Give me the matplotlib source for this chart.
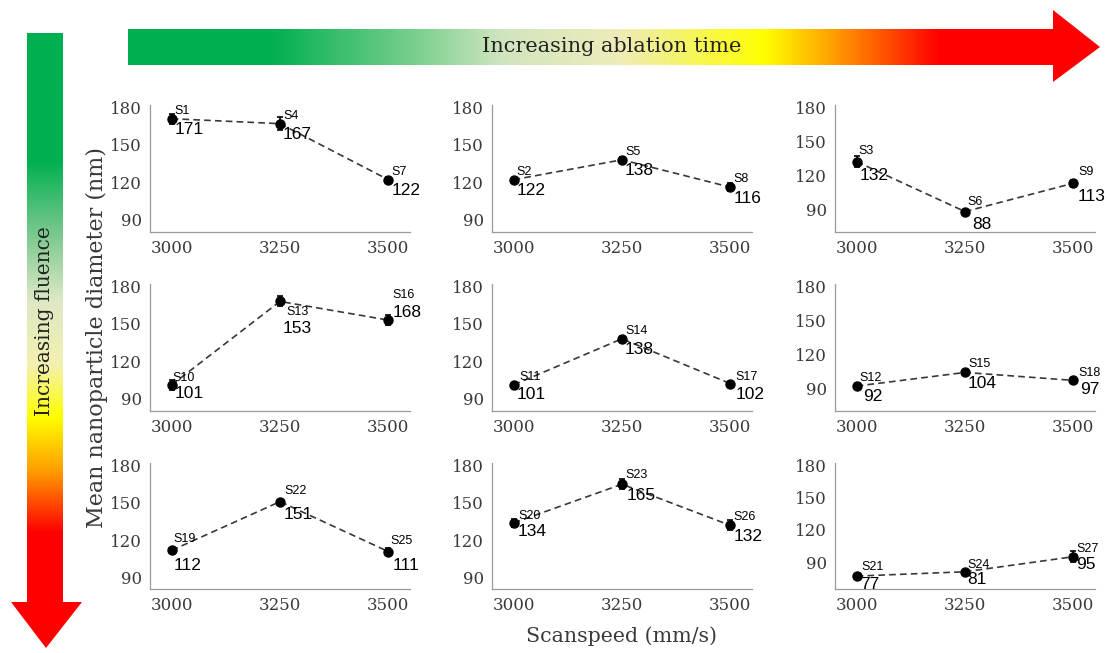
import numpy as np
import matplotlib
matplotlib.use("Agg")
import matplotlib.pyplot as plt
from matplotlib.colors import LinearSegmentedColormap
from matplotlib.patches import Polygon

# scan speeds (x) shared by every panel
speeds = [3000, 3250, 3500]

# panels in reading order (row by row)
samples = [["S1", "S4", "S7"], ["S2", "S5", "S8"], ["S3", "S6", "S9"],
           ["S10", "S13", "S16"], ["S11", "S14", "S17"], ["S12", "S15", "S18"],
           ["S19", "S22", "S25"], ["S20", "S23", "S26"], ["S21", "S24", "S27"]]
means = [[171, 167, 122], [122, 138, 116], [132, 88, 113],
         [101, 168, 153], [101, 138, 102], [92, 104, 97],
         [112, 151, 111], [134, 165, 132], [77, 81, 95]]
errors = [[4, 5, 2], [1, 2, 3], [5, 1, 3],
          [4, 4, 4], [1, 2, 1], [1, 2, 1],
          [1, 1, 3], [3, 4, 4], [1, 1, 5]]
# number printed next to each point (as in the original figure)
value_labels = [["171", "167", "122"], ["122", "138", "116"], ["132", "88", "113"],
                ["101", "153", "168"], ["101", "138", "102"], ["92", "104", "97"],
                ["112", "151", "111"], ["134", "165", "132"], ["77", "81", "95"]]
yticks = [90, 120, 150, 180]

# ---- layout (pixels) ----
W, H = 1110, 653
col_x = [(150, 410), (492, 752), (835, 1095)]
row_y = [(105, 232), (284, 411), (463, 589)]
ylims = [[(80, 182), (80, 182), (70, 182)],
         [(80, 182), (80, 182), (70, 182)],
         [(81, 182), (81, 182), (65, 182)]]

# label offsets in pixels: (S-label, value-label)
default_off = ((3, 8), (3, -11))
label_off = {"S13": ((6, -11), (3, -27)), "S16": ((4, 25), (4, 8)),
             "S6": ((2, 10), (7, -13)), "S3": ((2, 11), (3, -14)),
             "S9": ((5, 11), (4, -13)), "S19": ((2, 11), (2, -15)),
             "S22": ((4, 11), (4, -13)), "S25": ((2, 11), (4, -14)),
             "S21": ((5, 9), (3, -8)), "S24": ((2, 7), (2, -8)),
             "S27": ((3, 8), (3, -8)), "S20": ((5, 7), (4, -9)),
             "S11": ((6, 8), (3, -10)), "S17": ((5, 7), (5, -11)),
             "S18": ((5, 7), (7, -9)), "S12": ((3, 8), (6, -10)),
             "S10": ((1, 7), (3, -9)), "S23": ((3, 9), (5, -11))}

serif = "DejaVu Serif"
sans = "Liberation Sans"
grey_txt = "#3a3a3a"

fig = plt.figure(figsize=(W / 100, H / 100), dpi=100)

# ---- gradient arrows in a background axes with pixel coordinates ----
bg = fig.add_axes([0, 0, 1, 1], zorder=0)
bg.set_xlim(0, W)
bg.set_ylim(H, 0)
bg.axis("off")

h_nodes = [(128, "#00b050"), (270, "#00b050"), (420, "#7fd090"), (500, "#cfe5bf"),
           (620, "#eeecb8"), (765, "#ffff00"), (830, "#ffa500"), (940, "#ff0000"),
           (1100, "#ff0000")]
h_cmap = LinearSegmentedColormap.from_list(
    "h", [((p - 128) / (1100 - 128), c) for p, c in h_nodes])
h_poly = Polygon([(128, 29), (1053, 29), (1053, 10), (1100, 47), (1053, 82),
                  (1053, 65), (128, 65)], closed=True, fc="none", ec="none")
bg.add_patch(h_poly)
im = bg.imshow(np.linspace(0, 1, 512)[None, :], cmap=h_cmap, aspect="auto",
               extent=(128, 1100, 82, 10))
im.set_clip_path(h_poly)

v_nodes = [(33, "#00b050"), (160, "#00b050"), (235, "#7cc98f"), (300, "#dde8c4"),
           (365, "#f3f0b0"), (417, "#ffff00"), (470, "#ffa000"), (533, "#ff0000"),
           (648, "#ff0000")]
v_cmap = LinearSegmentedColormap.from_list(
    "v", [((p - 33) / (648 - 33), c) for p, c in v_nodes])
v_poly = Polygon([(27, 33), (63, 33), (63, 602), (82, 602), (46, 648), (11, 602),
                  (27, 602)], closed=True, fc="none", ec="none")
bg.add_patch(v_poly)
im2 = bg.imshow(np.linspace(0, 1, 512)[:, None], cmap=v_cmap, aspect="auto",
                extent=(11, 82, 648, 33))
im2.set_clip_path(v_poly)

bg.text(612, 47, "Increasing ablation time", fontsize=15, family=serif,
        color="#222222", ha="center", va="center")
bg.text(45, 321, "Increasing fluence", fontsize=14.5, family=serif,
        color="#222222", ha="center", va="center", rotation=90)

# ---- the nine panels ----
for k in range(9):
    r, c = divmod(k, 3)
    x0, x1 = col_x[c]
    y0, y1 = row_y[r]
    ax = fig.add_axes([x0 / W, 1 - y1 / H, (x1 - x0) / W, (y1 - y0) / H], zorder=2)
    ax.patch.set_alpha(0)
    ax.errorbar(speeds, means[k], yerr=errors[k], fmt="o", color="black",
                ms=6.5, capsize=2.5, elinewidth=1.2, capthick=1.2, zorder=3)
    ax.plot(speeds, means[k], ls=(0, (4, 2.5)), color="#383838", lw=1.2, zorder=2)
    for x, y, s, v in zip(speeds, means[k], samples[k], value_labels[k]):
        so, vo = label_off.get(s, default_off)
        ax.annotate(s, (x, y), xytext=so, textcoords="offset pixels",
                    fontsize=9, family=sans, ha="left", va="center")
        ax.annotate(v, (x, y), xytext=vo, textcoords="offset pixels",
                    fontsize=12.5, family=sans, ha="left", va="center")
    ax.set_xlim(2950, 3550)
    ax.set_ylim(*ylims[r][c])
    ax.set_xticks(speeds)
    ax.set_yticks(yticks)
    ax.tick_params(length=0, labelsize=12, labelcolor=grey_txt, pad=6)
    for lab in ax.get_xticklabels() + ax.get_yticklabels():
        lab.set_family(serif)
    for side in ["top", "right"]:
        ax.spines[side].set_visible(False)
    for side in ["left", "bottom"]:
        ax.spines[side].set_color("#9a9a9a")
        ax.spines[side].set_linewidth(0.9)

fig.text(97 / W, 1 - 337 / H, "Mean nanoparticle diameter (nm)", rotation=90,
         fontsize=16, family=serif, color=grey_txt, ha="center", va="center")
fig.text(622 / W, 1 - 636 / H, "Scanspeed (mm/s)", fontsize=14.8, family=serif,
         color=grey_txt, ha="center", va="center")

fig.savefig("out.png", dpi=100)
